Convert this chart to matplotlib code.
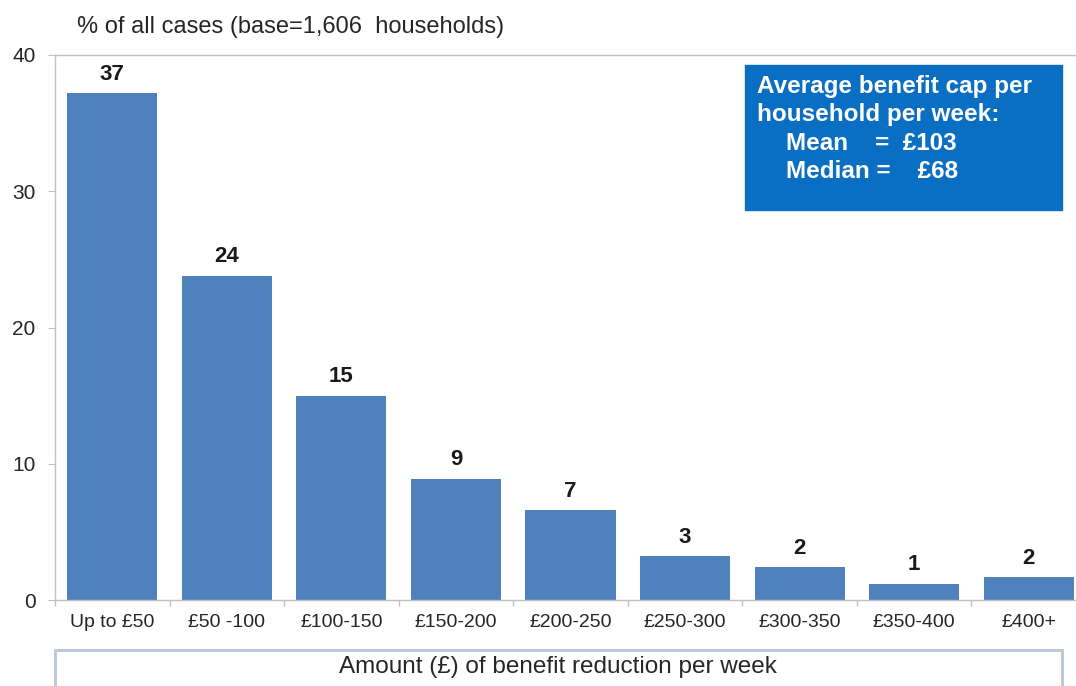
import matplotlib
matplotlib.use("Agg")
import matplotlib.pyplot as plt
from matplotlib.patches import Rectangle
from matplotlib.ticker import FixedLocator

plt.rcParams['font.family'] = ['Liberation Sans', 'DejaVu Sans']

categories = ["Up to £50", "£50 -100", "£100-150", "£150-200", "£200-250",
              "£250-300", "£300-350", "£350-400", "£400+"]
values = [37.2, 23.8, 15.0, 8.9, 6.6, 3.2, 2.4, 1.2, 1.7]
labels = ["37", "24", "15", "9", "7", "3", "2", "1", "2"]
yticks = [0, 10, 20, 30, 40]

W, H = 1076, 686
fig = plt.figure(figsize=(W / 100, H / 100), dpi=100)
fig.patch.set_facecolor("white")

def fx(px):
    return px / W

def fy(py):
    return 1 - py / H

ax = fig.add_axes([fx(55), fy(600), (1086 - 55) / W, (600 - 55) / H])
x = list(range(len(categories)))
ax.bar(x, values, width=0.786, color="#4F81BD", zorder=2)
for xi, v, lab in zip(x, values, labels):
    ax.annotate(lab, (xi, v), xytext=(0, 6), textcoords="offset points",
                ha="center", va="bottom", fontsize=16, fontweight="bold",
                color="#1a1a1a")

ax.set_xlim(-0.5, len(categories) - 0.5)
ax.set_ylim(0, 40)
ax.set_yticks(yticks)
ax.set_xticks(x)
ax.set_xticklabels(categories)
ax.xaxis.set_minor_locator(FixedLocator([i + 0.5 for i in range(-1, len(categories))]))
ax.tick_params(axis="x", which="major", length=0, pad=10, labelsize=14, labelcolor="#262626")
ax.tick_params(axis="x", which="minor", length=4, color="#c0c0c0", width=1)
ax.tick_params(axis="y", which="major", length=5, color="#c0c0c0", pad=9,
               labelsize=15, labelcolor="#262626")

for side in ["left", "bottom", "top"]:
    ax.spines[side].set_color("#c0c0c0")
    ax.spines[side].set_linewidth(1)
ax.spines["right"].set_visible(False)

fig.text(fx(77), fy(27), "% of all cases (base=1,606  households)",
         fontsize=17, color="#262626", ha="left", va="center")

# Info box
fig.patches.append(Rectangle((fx(745), fy(210)), (1062 - 745) / W, (210 - 65) / H,
                             transform=fig.transFigure, facecolor="#0A6FC2",
                             edgecolor="#0A6FC2", zorder=5))
info_lines = [("Average benefit cap per", 757, 87),
              ("household per week:", 757, 114),
              ("Mean    =  £103", 786, 143),
              ("Median =    £68", 786, 171)]
for txt, px, py in info_lines:
    fig.text(fx(px), fy(py), txt, fontsize=17.5, fontweight="bold", color="white",
             ha="left", va="center", zorder=6)

# X-axis title box
fig.patches.append(Rectangle((fx(55), fy(700)), (1062 - 55) / W, (700 - 650) / H,
                             transform=fig.transFigure, facecolor="white",
                             edgecolor="#b9c6d4", linewidth=2, zorder=5))
fig.text(fx(558), fy(667), "Amount (£) of benefit reduction per week",
         fontsize=17.5, color="#262626", ha="center", va="center", zorder=6)

fig.savefig("out.png", dpi=100)
